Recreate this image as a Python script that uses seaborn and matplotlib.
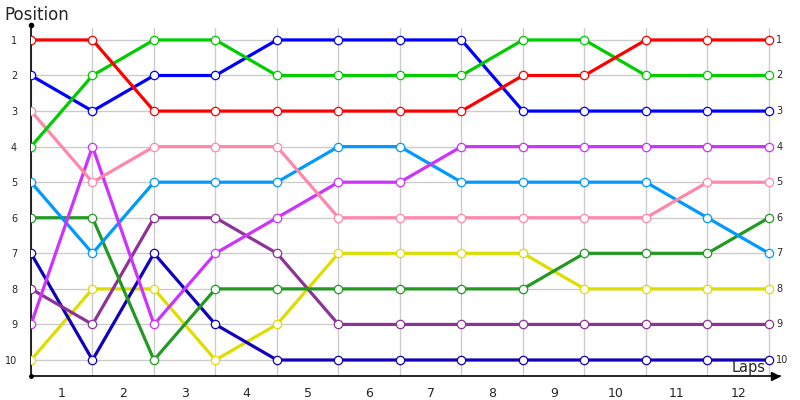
import numpy as np
import pandas as pd
from matplotlib import pyplot as plt
import seaborn as sns

# data: position of each driver after every lap (lap 0 = start)
laps = list(range(13))
lap_labels = [str(i) for i in range(1, 13)]
positions = list(range(1, 11))

red = [1, 1, 3, 3, 3, 3, 3, 3, 2, 2, 1, 1, 1]
green = [4, 2, 1, 1, 2, 2, 2, 2, 1, 1, 2, 2, 2]
blue = [2, 3, 2, 2, 1, 1, 1, 1, 3, 3, 3, 3, 3]
pink = [3, 5, 4, 4, 4, 6, 6, 6, 6, 6, 6, 5, 5]
magenta = [9, 4, 9, 7, 6, 5, 5, 4, 4, 4, 4, 4, 4]
light_blue = [5, 7, 5, 5, 5, 4, 4, 5, 5, 5, 5, 6, 7]
dark_green = [6, 6, 10, 8, 8, 8, 8, 8, 8, 7, 7, 7, 6]
purple = [8, 9, 6, 6, 7, 9, 9, 9, 9, 9, 9, 9, 9]
dark_blue = [7, 10, 7, 9, 10, 10, 10, 10, 10, 10, 10, 10, 10]
yellow = [10, 8, 8, 10, 9, 7, 7, 7, 7, 8, 8, 8, 8]

series = {
    "yellow": (yellow, "#dddd00"),
    "dark_blue": (dark_blue, "#1100bb"),
    "purple": (purple, "#8e3396"),
    "dark_green": (dark_green, "#229922"),
    "light_blue": (light_blue, "#0099ff"),
    "magenta": (magenta, "#cc33ff"),
    "pink": (pink, "#ff88aa"),
    "blue": (blue, "#0000ff"),
    "green": (green, "#00cc00"),
    "red": (red, "#ff0000"),
}

sns.set_style("white")
plt.rcParams['font.family'] = ['DejaVu Sans']

fig = plt.figure(figsize=(8, 4), dpi=100)
ax = fig.add_axes([0.03875, 0.06, 0.93625, 0.8775])

for name, (vals, col) in series.items():
    df = pd.DataFrame({"lap": laps, "pos": vals})
    sns.lineplot(data=df, x="lap", y="pos", ax=ax, color=col, linewidth=2.3,
                 marker="o", markersize=6, markerfacecolor="white",
                 markeredgecolor=col, markeredgewidth=0.9, zorder=3)

# grid
for x in laps:
    ax.axvline(x, ymax=0.991, color="#cccccc", lw=1, zorder=1)
for y in positions:
    ax.axhline(y, xmin=0, xmax=12 / 12.18, color="#cccccc", lw=1, zorder=1)

ax.set_xlim(0, 12.18)
ax.set_ylim(10.45, 0.58)

ax.set_xticks([i + 0.5 for i in range(12)])
ax.set_xticklabels(lap_labels, fontsize=9)
ax.set_yticks(positions)
ax.set_yticklabels([str(p) for p in positions], fontsize=7)
ax.tick_params(length=0, pad=8)
ax.tick_params(axis="y", pad=10)
ax.set_xlabel("")
ax.set_ylabel("")

# right side labels
for p in positions:
    ax.text(12.12, p, str(p), fontsize=7, va="center", ha="left")

for s in ["top", "right"]:
    ax.spines[s].set_visible(False)
ax.spines["left"].set_color("black")
ax.spines["bottom"].set_color("black")
ax.spines["left"].set_linewidth(1.2)
ax.spines["bottom"].set_linewidth(1.2)
ax.plot([0], [0.58], marker="o", markersize=3, color="black", clip_on=False)
ax.plot([0], [10.45], marker="o", markersize=2.5, color="black", clip_on=False)
ax.plot([12.1], [10.45], marker=">", markersize=6, color="black", clip_on=False)

fig.text(0.006, 0.962, "Position", fontsize=12, ha="left", va="center")
ax.text(11.95, 10.2, "Laps", fontsize=10.5, ha="right", va="center")

plt.savefig("out.png")
